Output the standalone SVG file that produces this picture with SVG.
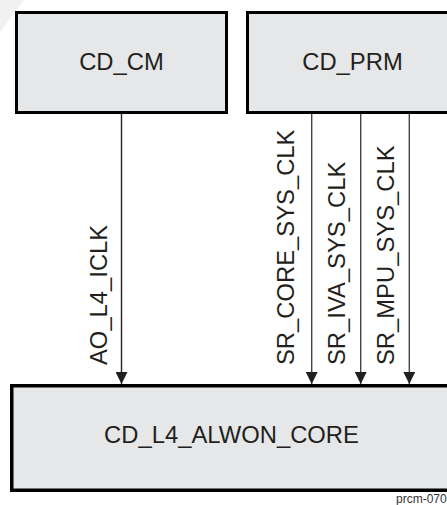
<svg xmlns="http://www.w3.org/2000/svg" width="447" height="505" viewBox="0 0 447 505">
<style>
.box{fill:#e6e7e8;stroke:#000;stroke-width:3}
.lbl{font-family:"Liberation Sans",Arial,sans-serif;font-size:23.8px;fill:#231f20}
.sig{font-family:"Liberation Sans",Arial,sans-serif;font-size:23.8px;fill:#231f20}
.wire{stroke:#444;stroke-width:1.4;fill:none;marker-end:url(#ah)}
</style>
<defs>
<marker id="ah" viewBox="0 0 12 12" refX="12" refY="6" markerWidth="12" markerHeight="12" markerUnits="userSpaceOnUse" orient="auto">
<path d="M0,0 L12,6 L0,12 Z" fill="#231f20"/>
</marker>
</defs>
<rect width="447" height="505" fill="#fff"/>
<polygon points="0,0 24,0 0,32" fill="#f1f1f1"/>
<g id="cd_cm">
<rect class="box" x="16.5" y="12.5" width="210" height="100"/>
<text class="lbl" x="121.5" y="70" text-anchor="middle">CD_CM</text>
</g>
<g id="cd_prm">
<rect class="box" x="247.5" y="12.5" width="212" height="100"/>
<text class="lbl" x="352.5" y="70" text-anchor="middle">CD_PRM</text>
</g>
<g id="cd_l4_alwon_core">
<rect class="box" x="11.75" y="385.75" width="441" height="104.5" style="stroke-width:3.5"/>
<text class="lbl" x="231.5" y="443" text-anchor="middle">CD_L4_ALWON_CORE</text>
</g>
<g id="connectors">
<line class="wire" x1="121.5" y1="114" x2="121.5" y2="384" style="stroke:#222"/>
<line class="wire" x1="311.7" y1="114" x2="311.7" y2="384"/>
<line class="wire" x1="360.7" y1="114" x2="360.7" y2="384"/>
<line class="wire" x1="409.3" y1="114" x2="409.3" y2="384"/>
<text class="sig" transform="translate(107,365) rotate(-90)">AO_L4_ICLK</text>
<text class="sig" transform="translate(293.5,365) rotate(-90)">SR_CORE_SYS_CLK</text>
<text class="sig" transform="translate(345,365) rotate(-90)">SR_IVA_SYS_CLK</text>
<text class="sig" transform="translate(394,365) rotate(-90)">SR_MPU_SYS_CLK</text>
</g>
<text x="396" y="503" font-family="'Liberation Sans',Arial,sans-serif" font-size="12" fill="#333">prcm-070</text>
</svg>
